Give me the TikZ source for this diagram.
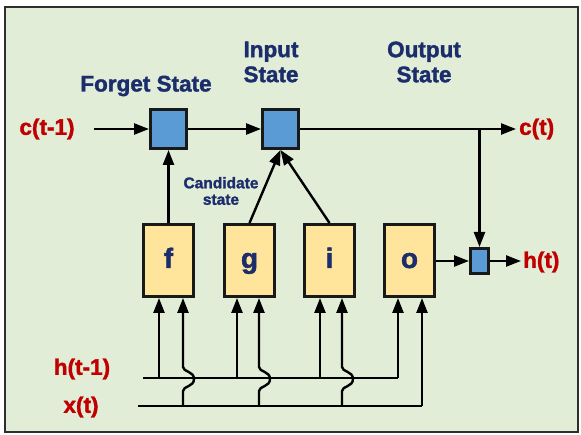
\documentclass[tikz,border=0pt]{standalone}
\usepackage{fontspec}
\setmainfont{Liberation Sans}
\newfontfamily\hvy{Liberation Sans Bold}[FakeBold=1.6]
\usetikzlibrary{arrows.meta,calc}
\definecolor{bg}{HTML}{E2EDD8}
\definecolor{framec}{HTML}{2E2E2E}
\definecolor{blueb}{HTML}{5B9BD5}
\definecolor{yell}{HTML}{FFE59C}
\definecolor{navy}{HTML}{1B2E6B}
\definecolor{redt}{HTML}{C00000}
\begin{document}
\begin{tikzpicture}[x=1pt,y=-1pt,
  line width=2.4pt,
  arr/.style={-{Triangle[length=15pt,width=11pt]}},
  mult/.style={draw=black!90, line width=3pt, fill=blueb, inner sep=0pt},
  gatebox/.style={draw=black!90, line width=3pt, fill=yell, inner sep=0pt,
     minimum width=50pt, minimum height=72pt, text=navy,
     text height=15pt, text depth=0pt,
     font=\fontsize{28}{30}\selectfont\hvy},
  hdr/.style={text=navy, font=\fontsize{22.5}{25}\selectfont\hvy, align=center, inner sep=0pt},
  sub/.style={text=navy, font=\fontsize{15.5}{16.5}\selectfont\hvy, align=center, inner sep=0pt},
  io/.style={text=redt, font=\fontsize{22.5}{24}\selectfont\hvy, inner sep=0pt}]
\useasboundingbox (0,0) rectangle (581,435);
\draw[fill=bg, draw=framec, line width=2pt] (5,7) rectangle (578,432);

% multiplication squares
\node[mult, minimum width=36pt, minimum height=39pt] (F) at (168.5,129) {};
\node[mult, minimum width=36pt, minimum height=39pt] (I) at (280.5,129) {};
\node[mult, minimum width=18pt, minimum height=25pt] (S) at (479.5,261) {};

% gate boxes
\node[gatebox] (f) at (168.5,260.5) {f};
\node[gatebox] (g) at (249.5,260.5) {g};
\node[gatebox] (i) at (329.5,260.5) {i};
\node[gatebox] (o) at (409.5,260.5) {o};

% labels
\node[hdr] (lf) at (146,86) {Forget State};
\node[hdr] (li) at (271,62) {Input\\State};
\node[hdr] (lo) at (424,62) {Output\\State};
\node[sub] (lc) at (221,191) {Candidate\\state};
\node[io] (cin) at (47,129) {c(t-1)};
\node[io, anchor=west] (cout) at (518,129) {c(t)};
\node[io, anchor=west] (hout) at (522,262) {h(t)};
\node[io] (hin) at (82,369) {h(t-1)};
\node[io] (xin) at (81,407) {x(t)};

% cell-state line
\coordinate (c0) at (94,129);
\coordinate (c1) at (516,129);
\coordinate (cj) at (479.5,129);
\draw[arr] (c0) -- (F.west);
\draw[arr] (F.east) -- (I.west);
\draw[arr] (I.east) -- (c1);
\draw[arr] (cj) -- (S.north);
\draw[arr] (f.north) -- (F.south);
\draw[arr] (g.north) -- (I.south);
\draw[arr] (i.north) -- (I.south);
\coordinate (h1) at (521,261);
\draw[arr] (o.east |- S.west) -- (S.west);
\draw[arr] (S.east) -- (h1);

% input buses
\coordinate (hs) at (143,378);
\coordinate (xs) at (138,406);
\coordinate (he) at (398,378);
\coordinate (xe) at (422,406);
\draw (hs) -- (he);
\draw (xs) -- (xe);

% h(t-1) taps
\foreach \n/\x in {f/159, g/237, i/320}{
  \draw[arr] (\x,378) -- (\x,298);
}
\draw[arr] (he) -- (398,298);
% x(t) taps with hops
\foreach \x in {183, 259, 342}{
  \draw[arr] (\x,406) -- (\x,391)
     .. controls (\x,386) and (\x+11,387) .. (\x+11,379)
     .. controls (\x+11,371) and (\x,372) .. (\x,367) -- (\x,298);
}
\draw[arr] (xe) -- (422,298);
\end{tikzpicture}
\end{document}
